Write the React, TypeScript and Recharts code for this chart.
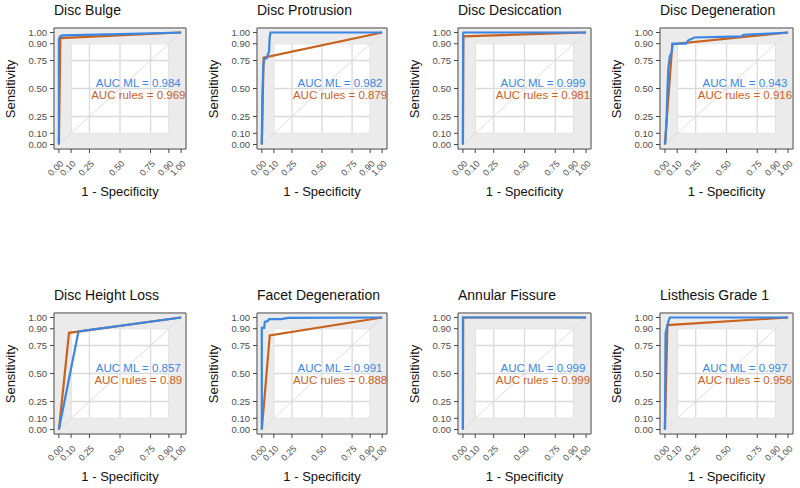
import React from 'react';
import {
  LineChart, Line, XAxis, YAxis, CartesianGrid, ReferenceArea, ReferenceLine, ReferenceDot
} from 'recharts';

interface RocPoint {
  fpr: number;
  tpr: number;
}

const TICKS = [0, 0.1, 0.25, 0.5, 0.75, 0.9, 1];
const DOMAIN: [number, number] = [-0.04, 1.04];

const titles = [
  'Disc Bulge', 'Disc Protrusion', 'Disc Desiccation', 'Disc Degeneration',
  'Disc Height Loss', 'Facet Degeneration', 'Annular Fissure', 'Listhesis Grade 1',
];
const aucMl = [0.984, 0.982, 0.999, 0.943, 0.857, 0.991, 0.999, 0.997];
const aucRules = [0.969, 0.879, 0.981, 0.916, 0.89, 0.888, 0.999, 0.956];

const bulgeMl: RocPoint[] = [
  { fpr: 0, tpr: 0 }, { fpr: 0, tpr: 0.94 }, { fpr: 0.01, tpr: 0.965 }, { fpr: 0.03, tpr: 0.975 },
  { fpr: 0.5, tpr: 0.985 }, { fpr: 1, tpr: 1 },
];
const bulgeRules: RocPoint[] = [{ fpr: 0, tpr: 0 }, { fpr: 0.012, tpr: 0.95 }, { fpr: 1, tpr: 1 }];

const protrusionMl: RocPoint[] = [
  { fpr: 0, tpr: 0 }, { fpr: 0.005, tpr: 0.45 }, { fpr: 0.012, tpr: 0.7 }, { fpr: 0.02, tpr: 0.76 },
  { fpr: 0.04, tpr: 0.77 }, { fpr: 0.05, tpr: 0.8 }, { fpr: 0.06, tpr: 0.83 }, { fpr: 0.065, tpr: 0.95 },
  { fpr: 0.072, tpr: 1 }, { fpr: 1, tpr: 1 },
];
const protrusionRules: RocPoint[] = [{ fpr: 0, tpr: 0 }, { fpr: 0.015, tpr: 0.775 }, { fpr: 1, tpr: 1 }];

const desiccationMl: RocPoint[] = [
  { fpr: 0, tpr: 0 }, { fpr: 0.002, tpr: 0.99 }, { fpr: 0.005, tpr: 1 }, { fpr: 1, tpr: 1 },
];
const desiccationRules: RocPoint[] = [{ fpr: 0, tpr: 0 }, { fpr: 0.003, tpr: 0.965 }, { fpr: 1, tpr: 1 }];

const degenerationMl: RocPoint[] = [
  { fpr: 0, tpr: 0 }, { fpr: 0.005, tpr: 0.05 }, { fpr: 0.014, tpr: 0.25 }, { fpr: 0.019, tpr: 0.43 },
  { fpr: 0.027, tpr: 0.67 }, { fpr: 0.04, tpr: 0.79 }, { fpr: 0.054, tpr: 0.82 }, { fpr: 0.062, tpr: 0.9 },
  { fpr: 0.17, tpr: 0.9 }, { fpr: 0.19, tpr: 0.93 }, { fpr: 0.24, tpr: 0.955 }, { fpr: 0.62, tpr: 0.965 },
  { fpr: 0.64, tpr: 0.98 }, { fpr: 0.85, tpr: 0.99 }, { fpr: 1, tpr: 1 },
];
const degenerationRules: RocPoint[] = [{ fpr: 0, tpr: 0 }, { fpr: 0.06, tpr: 0.895 }, { fpr: 1, tpr: 1 }];

const heightLossMl: RocPoint[] = [{ fpr: 0, tpr: 0 }, { fpr: 0.16, tpr: 0.875 }, { fpr: 1, tpr: 1 }];
const heightLossRules: RocPoint[] = [{ fpr: 0, tpr: 0 }, { fpr: 0.083, tpr: 0.863 }, { fpr: 1, tpr: 1 }];

const facetMl: RocPoint[] = [
  { fpr: 0, tpr: 0 }, { fpr: 0, tpr: 0.907 }, { fpr: 0.02, tpr: 0.907 }, { fpr: 0.025, tpr: 0.96 },
  { fpr: 0.047, tpr: 0.967 }, { fpr: 0.06, tpr: 0.985 }, { fpr: 0.16, tpr: 0.985 }, { fpr: 0.22, tpr: 0.997 },
  { fpr: 1, tpr: 1 },
];
const facetRules: RocPoint[] = [{ fpr: 0, tpr: 0 }, { fpr: 0.066, tpr: 0.84 }, { fpr: 1, tpr: 1 }];

const fissureMl: RocPoint[] = [{ fpr: 0, tpr: 0 }, { fpr: 0, tpr: 1 }, { fpr: 1, tpr: 1 }];
const fissureRules: RocPoint[] = [{ fpr: 0, tpr: 0 }, { fpr: 0.002, tpr: 1 }, { fpr: 1, tpr: 1 }];

const listhesisMl: RocPoint[] = [
  { fpr: 0, tpr: 0 }, { fpr: 0.005, tpr: 0.857 }, { fpr: 0.014, tpr: 0.9 }, { fpr: 0.027, tpr: 0.96 },
  { fpr: 0.04, tpr: 1 }, { fpr: 1, tpr: 1 },
];
const listhesisRules: RocPoint[] = [{ fpr: 0, tpr: 0 }, { fpr: 0.02, tpr: 0.932 }, { fpr: 1, tpr: 1 }];

const mlCurves = [bulgeMl, protrusionMl, desiccationMl, degenerationMl, heightLossMl, facetMl, fissureMl, listhesisMl];
const rulesCurves = [bulgeRules, protrusionRules, desiccationRules, degenerationRules, heightLossRules, facetRules, fissureRules, listhesisRules];

const BLUE = '#3a86e4';
const ORANGE = '#c8621e';
const BAND = '#ebebeb';
const FONT = '"Liberation Sans", Arial, Helvetica, sans-serif';

const colLeft = [54, 257, 458, 660];
const colWidth = [132, 130, 133, 133];
const rowTop = [28, 313];
const PLOT_H = 121;
const AXIS_W = 54;

// rotated x tick labels, ending just below-right of the tick
function XTick(props: any) {
  const { x, y, payload } = props;
  const ax = x + 3;
  const ay = y + 7;
  return (
    <text x={ax} y={ay} transform={`rotate(-45 ${ax} ${ay})`} textAnchor="end" dominantBaseline="central"
      fontSize={9} fill="#4d4d4d" fontFamily={FONT}>
      {Number(payload.value).toFixed(2)}
    </text>
  );
}

function Panel({ i }: { i: number }) {
  const col = i % 4;
  const row = Math.floor(i / 4);
  const left = colLeft[col];
  const top = rowTop[row];
  const w = colWidth[col];
  return (
    <>
      <div style={{ position: 'absolute', left, top: top - 26, fontSize: 14, lineHeight: '16px', color: '#111', whiteSpace: 'nowrap' }}>
        {titles[i]}
      </div>
      <div style={{ position: 'absolute', left: left - 44, top: top + PLOT_H / 2, fontSize: 13, lineHeight: '15px', color: '#111', whiteSpace: 'nowrap', transform: 'translate(-50%, -50%) rotate(-90deg)' }}>
        Sensitivity
      </div>
      <div style={{ position: 'absolute', left: left + w / 2, top: top + PLOT_H + 42, fontSize: 13, lineHeight: '15px', color: '#111', whiteSpace: 'nowrap', transform: 'translate(-50%, -50%)' }}>
        1 - Specificity
      </div>
      <div style={{ position: 'absolute', left: left - AXIS_W, top: top - 28 }}>
        <LineChart width={AXIS_W + w + 8} height={28 + PLOT_H + 50} margin={{ top: 28, right: 8, bottom: 0, left: 0 }}>
          <CartesianGrid stroke="#dadada" strokeWidth={1.3} />
          <XAxis type="number" dataKey="fpr" domain={DOMAIN} ticks={TICKS} interval={0} allowDataOverflow
            axisLine={false} tickSize={4} tickMargin={2} tickLine={{ stroke: '#444' }} height={50} tick={<XTick />} />
          <YAxis type="number" dataKey="tpr" domain={DOMAIN} ticks={TICKS} interval={0} allowDataOverflow
            axisLine={false} tickSize={4} tickMargin={3} tickLine={{ stroke: '#444' }} width={AXIS_W}
            tick={{ fontSize: 9.5, fill: '#4d4d4d', fontFamily: FONT }} tickFormatter={(v: number) => v.toFixed(2)} />
          <ReferenceArea x1={-0.04} x2={0.1} y1={-0.04} y2={1.04} fill={BAND} fillOpacity={1} stroke="none" />
          <ReferenceArea x1={0.9} x2={1.04} y1={-0.04} y2={1.04} fill={BAND} fillOpacity={1} stroke="none" />
          <ReferenceArea x1={-0.04} x2={1.04} y1={-0.04} y2={0.1} fill={BAND} fillOpacity={1} stroke="none" />
          <ReferenceArea x1={-0.04} x2={1.04} y1={0.9} y2={1.04} fill={BAND} fillOpacity={1} stroke="none" />
          <ReferenceLine segment={[{ x: 0, y: 0 }, { x: 1, y: 1 }]} stroke="#dcdcdc" strokeWidth={1} />
          <ReferenceArea x1={-0.04} x2={1.04} y1={-0.04} y2={1.04} fill="none" stroke="#555" strokeWidth={1} />
          <Line data={rulesCurves[i]} dataKey="tpr" type="linear" stroke={ORANGE} strokeWidth={2.2} dot={false} isAnimationActive={false} />
          <Line data={mlCurves[i]} dataKey="tpr" type="linear" stroke={BLUE} strokeWidth={2.2} dot={false} isAnimationActive={false} />
          <ReferenceDot x={0.65} y={0.55} r={1} fill="none" stroke="none"
            label={{ value: `AUC ML = ${aucMl[i]}`, position: 'center', fill: BLUE, fontSize: 11.5, fontFamily: FONT }} />
          <ReferenceDot x={0.65} y={0.44} r={1} fill="none" stroke="none"
            label={{ value: `AUC rules = ${aucRules[i]}`, position: 'center', fill: ORANGE, fontSize: 11.5, fontFamily: FONT }} />
        </LineChart>
      </div>
    </>
  );
}

export default function App() {
  return (
    <div style={{ position: 'absolute', left: 0, top: 0, width: 800, height: 488, background: '#fff', fontFamily: FONT, overflow: 'hidden' }}>
      {titles.map((_, i) => <Panel key={i} i={i} />)}
    </div>
  );
}
